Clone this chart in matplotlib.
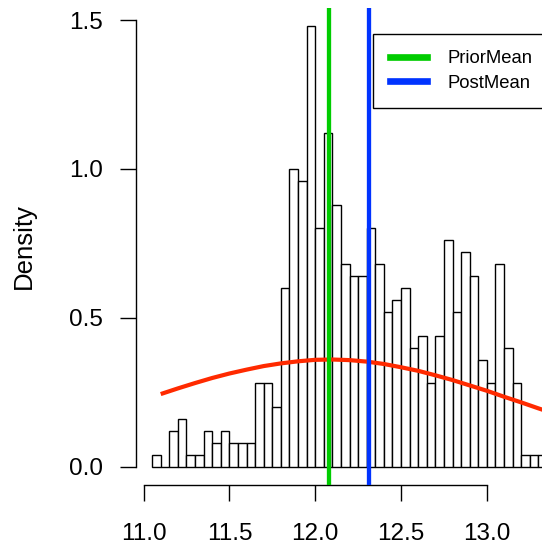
import numpy as np
import matplotlib
matplotlib.use("Agg")
import matplotlib.pyplot as plt

plt.rcParams['font.family'] = ['Liberation Sans', 'DejaVu Sans']

# Histogram data (density per bin, bin width 0.05 starting at 11.05)
bin_start = 11.05
bin_width = 0.05
densities = [0.04, 0.00, 0.12, 0.16, 0.04, 0.04, 0.12, 0.08, 0.12, 0.08,
             0.08, 0.08, 0.28, 0.28, 0.20, 0.60, 1.00, 0.96, 1.48, 0.80,
             1.12, 0.88, 0.68, 0.64, 0.64, 0.80, 0.68, 0.52, 0.56, 0.60,
             0.40, 0.44, 0.28, 0.44, 0.76, 0.52, 0.72, 0.64, 0.36, 0.28,
             0.68, 0.40, 0.28, 0.04, 0.04, 0.04]

# Prior density curve
curve_x = [11.1, 11.2, 11.3, 11.4, 11.5, 11.6, 11.7, 11.8, 11.9, 12.0, 12.1, 12.2,
           12.3, 12.4, 12.5, 12.6, 12.7, 12.8, 12.9, 13.0, 13.1, 13.2, 13.3, 13.4]
curve_y = [0.244, 0.263, 0.281, 0.298, 0.313, 0.326, 0.338, 0.347, 0.354, 0.359, 0.360, 0.358,
           0.353, 0.345, 0.334, 0.322, 0.307, 0.291, 0.273, 0.255, 0.235, 0.216, 0.196, 0.177]

prior_mean = 12.08
post_mean = 12.315

x_ticks = [11.0, 11.5, 12.0, 12.5, 13.0]
x_tick_labels = ["11.0", "11.5", "12.0", "12.5", "13.0"]
y_ticks = [0.0, 0.5, 1.0, 1.5]
y_tick_labels = ["0.0", "0.5", "1.0", "1.5"]

W, H = 542, 548
fig = plt.figure(figsize=(W / 100, H / 100), dpi=100)
ax_bottom, ax_top = 484.6, 8.4
ax_left = 136
ax = fig.add_axes([ax_left / W, 1 - ax_bottom / H, (W - ax_left) / W, (ax_bottom - ax_top) / H])

lefts = bin_start + bin_width * np.arange(len(densities))
ax.bar(lefts, densities, width=bin_width, align='edge', color='white',
       edgecolor='black', linewidth=1.0, zorder=1)

ax.plot(curve_x, curve_y, color='#FF2A00', linewidth=3.0, zorder=2,
        solid_capstyle='butt')

l1 = ax.axvline(prior_mean, color='#00CC00', linewidth=3.1, zorder=3, label='PriorMean')
l2 = ax.axvline(post_mean, color='#0033FF', linewidth=3.1, zorder=3, label='PostMean')

ax.set_xlim(10.956, 13.321)
ax.set_ylim(-0.060, 1.539)

for s in ['top', 'right']:
    ax.spines[s].set_visible(False)
ax.spines['left'].set_bounds(0, 1.5)
ax.spines['bottom'].set_bounds(11.0, 13.0)
for s in ['left', 'bottom']:
    ax.spines[s].set_linewidth(1.0)

ax.set_xticks(x_ticks)
ax.set_xticklabels(x_tick_labels)
ax.set_yticks(y_ticks)
ax.set_yticklabels(y_tick_labels)
ax.tick_params(axis='both', direction='out', length=11.5, width=1.0, labelsize=17.5)
ax.tick_params(axis='y', pad=12.5)
ax.tick_params(axis='x', pad=16.5)

ax.set_ylabel('Density', fontsize=18.5)
ax.yaxis.set_label_coords((35.5 - ax_left) / (W - ax_left), 0.5)

leg = ax.legend(handles=[l1, l2], loc='upper left',
                bbox_to_anchor=(373 / W, 1 - 33.8 / H), bbox_transform=fig.transFigure,
                fontsize=13.3, frameon=True, fancybox=False, edgecolor='black',
                framealpha=1, borderaxespad=0, borderpad=0.9, handlelength=2.0,
                handletextpad=1.15, labelspacing=0.4)
leg.get_frame().set_linewidth(1.0)
for ln in leg.get_lines():
    ln.set_linewidth(4.8)

fig.savefig('out.png', dpi=100)
